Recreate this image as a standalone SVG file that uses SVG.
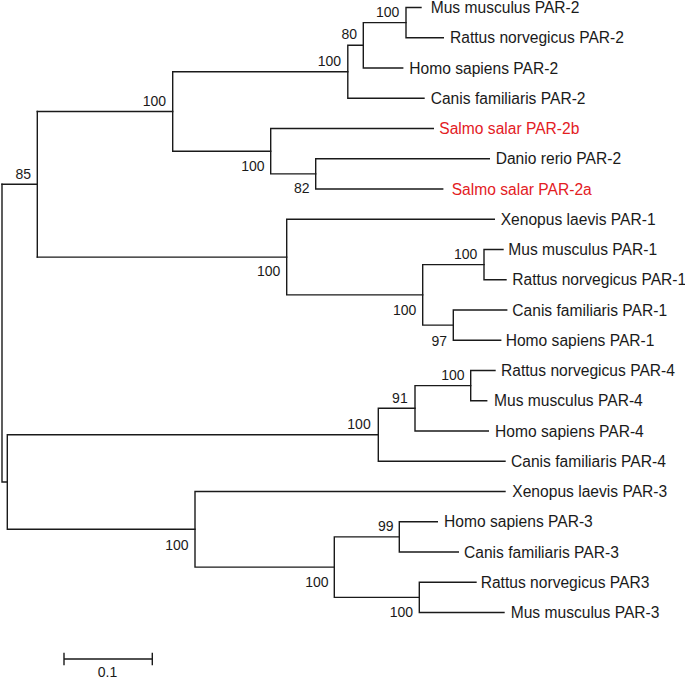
<svg xmlns="http://www.w3.org/2000/svg" width="685" height="679" viewBox="0 0 685 679">
<style>
.br{fill:none;stroke:#1a1a1a;stroke-width:1.4;stroke-linecap:square}
.lf{font-family:"Liberation Sans",Arial,sans-serif;font-size:15.6px;fill:#1a1a1a}
.red{fill:#e3201f}
.bs{font-family:"Liberation Sans",Arial,sans-serif;font-size:14px;fill:#1a1a1a;text-anchor:end}
.sc{font-family:"Liberation Sans",Arial,sans-serif;font-size:14px;fill:#1a1a1a;text-anchor:middle}
</style>
<rect width="685" height="679" fill="#fff"/>
<g id="connectors">
<path class="br" d="M2 184.3 V482 H7.3"/>
<path class="br" d="M2 184.3 H37.3"/>
<path class="br" d="M37.3 111.5 V257.1"/>
<path class="br" d="M37.3 111.5 H172.7 M37.3 257.1 H286.7"/>
<path class="br" d="M172.7 71.8 V151.2 M172.7 71.8 H347.8 M172.7 151.2 H270.7"/>
<path class="br" d="M347.8 45.3 V98.25 M347.8 45.3 H363.3 M347.8 98.25 H424"/>
<path class="br" d="M363.3 22.6 V68 M363.3 22.6 H406 M363.3 68 H402.7"/>
<path class="br" d="M406 7.5 V37.75 M406 7.5 H421 M406 37.75 H443.3"/>
<path class="br" d="M270.7 128.5 V173.9 M270.7 128.5 H433.3 M270.7 173.9 H315.7"/>
<path class="br" d="M315.7 158.75 V189 M315.7 158.75 H489.3 M315.7 189 H442.7"/>
<path class="br" d="M286.7 219.25 V294.9 M286.7 219.25 H494.3 M286.7 294.9 H422.7"/>
<path class="br" d="M422.7 264.6 V325.1 M422.7 264.6 H484 M422.7 325.1 H453.3"/>
<path class="br" d="M484 249.5 V279.75 M484 249.5 H503 M484 279.75 H506"/>
<path class="br" d="M453.3 310 V340.25 M453.3 310 H506.7 M453.3 340.25 H500.7"/>
<path class="br" d="M7.3 434.8 V529.3 M7.3 434.8 H378.3 M7.3 529.3 H195"/>
<path class="br" d="M378.3 408.3 V461.25 M378.3 408.3 H415 M378.3 461.25 H505"/>
<path class="br" d="M415 385.6 V431 M415 385.6 H470.7 M415 431 H488.3"/>
<path class="br" d="M470.7 370.5 V400.75 M470.7 370.5 H495 M470.7 400.75 H486.7"/>
<path class="br" d="M195 491.5 V567.1 M195 491.5 H505 M195 567.1 H334.3"/>
<path class="br" d="M334.3 536.9 V597.4 M334.3 536.9 H399.3 M334.3 597.4 H419.3"/>
<path class="br" d="M399.3 521.75 V552 M399.3 521.75 H437.3 M399.3 552 H458.3"/>
<path class="br" d="M419.3 582.25 V612.5 M419.3 582.25 H476 M419.3 612.5 H504"/>
</g>
<g id="leaves">
<g id="leaf-mus-par2"><text class="lf" x="430.7" y="13">Mus musculus PAR-2</text></g>
<g id="leaf-rat-par2"><text class="lf" x="450" y="43.25">Rattus norvegicus PAR-2</text></g>
<g id="leaf-homo-par2"><text class="lf" x="409.3" y="73.5">Homo sapiens PAR-2</text></g>
<g id="leaf-canis-par2"><text class="lf" x="430.7" y="103.75">Canis familiaris PAR-2</text></g>
<g id="leaf-salmo-par2b"><text class="lf red" x="439.3" y="134">Salmo salar PAR-2b</text></g>
<g id="leaf-danio-par2"><text class="lf" x="495.7" y="164.25">Danio rerio PAR-2</text></g>
<g id="leaf-salmo-par2a"><text class="lf red" x="451.7" y="194.5">Salmo salar PAR-2a</text></g>
<g id="leaf-xen-par1"><text class="lf" x="500.7" y="224.75">Xenopus laevis PAR-1</text></g>
<g id="leaf-mus-par1"><text class="lf" x="508.3" y="255">Mus musculus PAR-1</text></g>
<g id="leaf-rat-par1"><text class="lf" x="512.3" y="285.25">Rattus norvegicus PAR-1</text></g>
<g id="leaf-canis-par1"><text class="lf" x="512.3" y="315.5">Canis familiaris PAR-1</text></g>
<g id="leaf-homo-par1"><text class="lf" x="505.7" y="345.75">Homo sapiens PAR-1</text></g>
<g id="leaf-rat-par4"><text class="lf" x="501" y="376">Rattus norvegicus PAR-4</text></g>
<g id="leaf-mus-par4"><text class="lf" x="494" y="406.25">Mus musculus PAR-4</text></g>
<g id="leaf-homo-par4"><text class="lf" x="495" y="436.5">Homo sapiens PAR-4</text></g>
<g id="leaf-canis-par4"><text class="lf" x="511" y="466.75">Canis familiaris PAR-4</text></g>
<g id="leaf-xen-par3"><text class="lf" x="512.3" y="497">Xenopus laevis PAR-3</text></g>
<g id="leaf-homo-par3"><text class="lf" x="444" y="527.25">Homo sapiens PAR-3</text></g>
<g id="leaf-canis-par3"><text class="lf" x="464" y="557.5">Canis familiaris PAR-3</text></g>
<g id="leaf-rat-par3"><text class="lf" x="480.7" y="587.75">Rattus norvegicus PAR3</text></g>
<g id="leaf-mus-par3"><text class="lf" x="510.7" y="618">Mus musculus PAR-3</text></g>
</g>
<g id="bootstrap">
<g id="n11"><text class="bs" x="31" y="178.5">85</text></g>
<g id="n6"><text class="bs" x="166" y="105.5">100</text></g>
<g id="n3"><text class="bs" x="341" y="65.5">100</text></g>
<g id="n2"><text class="bs" x="357" y="38.5">80</text></g>
<g id="n1"><text class="bs" x="399.3" y="16.5">100</text></g>
<g id="n5"><text class="bs" x="264.5" y="170.5">100</text></g>
<g id="n4"><text class="bs" x="309.5" y="193">82</text></g>
<g id="n10"><text class="bs" x="280.3" y="276">100</text></g>
<g id="n9"><text class="bs" x="416.3" y="314.5">100</text></g>
<g id="n7"><text class="bs" x="477.3" y="258.5">100</text></g>
<g id="n8"><text class="bs" x="447" y="345.5">97</text></g>
<g id="n14"><text class="bs" x="370.7" y="429">100</text></g>
<g id="n13"><text class="bs" x="407.7" y="403">91</text></g>
<g id="n12"><text class="bs" x="464.5" y="379.5">100</text></g>
<g id="n18"><text class="bs" x="188.5" y="549.5">100</text></g>
<g id="n17"><text class="bs" x="328.5" y="586.5">100</text></g>
<g id="n15"><text class="bs" x="393.5" y="531">99</text></g>
<g id="n16"><text class="bs" x="413" y="616.5">100</text></g>
</g>
<g id="scale-bar">
<path class="br" d="M64 659 H152.3 M64 653.5 V664.5 M152.3 653.5 V664.5"/>
<text class="sc" x="107.5" y="676.5">0.1</text>
</g>
</svg>
